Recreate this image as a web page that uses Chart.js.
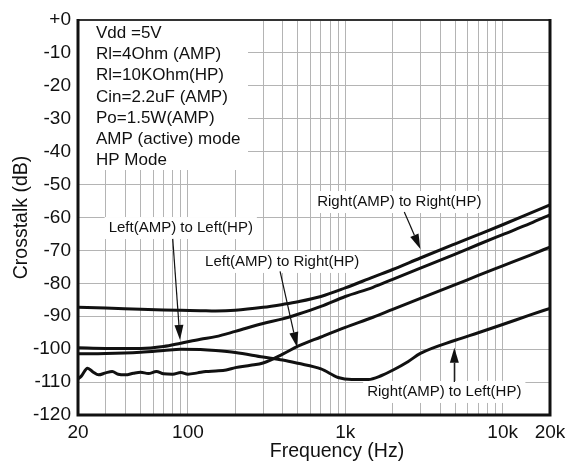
<!DOCTYPE html>
<html>
<head>
<meta charset="utf-8">
<style>
  html, body { margin: 0; padding: 0; background: #fff; }
  #wrap { width: 577px; height: 462px; }
</style>
<script src="https://cdn.jsdelivr.net/npm/chart.js@4/dist/chart.umd.min.js"></script>
</head>
<body>
<div id="wrap"><canvas id="crosstalk"></canvas></div>
<script>
// ====== data (Hz / dB) ======
const freqHz = [20, 30, 50, 70, 90, 120, 150, 200, 300, 400, 500, 700, 1000, 1500, 2000, 3000, 5000, 7000, 10000, 15000, 20000];
const dbRightToRight = [-87.3, -87.5, -87.9, -88.1, -88.2, -88.3, -88.4, -88.2, -87.3, -86.4, -85.6, -84.0, -81.4, -78.1, -75.8, -72.3, -68.0, -65.2, -62.2, -58.7, -56.2];
const dbLeftToLeft = [-99.6, -99.8, -99.8, -99.2, -98.2, -97.0, -96.2, -94.6, -92.2, -90.8, -89.4, -87.0, -84.0, -81.2, -78.8, -75.4, -71.1, -68.2, -65.2, -61.8, -59.2];

const freqLeftToRight = [20, 21, 23, 25, 27, 30, 33, 36, 40, 45, 50, 56, 63, 70, 80, 90, 100, 115, 130, 150, 175, 200, 250, 300, 400, 500, 700, 1000, 1500, 2000, 3000, 5000, 7000, 10000, 15000, 20000];
const dbLeftToRight = [-109.0, -108.2, -105.8, -107.0, -107.8, -107.2, -106.8, -107.6, -107.8, -107.3, -107.0, -107.4, -106.8, -107.5, -107.6, -107.1, -107.6, -107.2, -106.8, -106.6, -106.3, -105.6, -104.9, -104.2, -101.5, -99.1, -96.3, -93.4, -90.3, -87.9, -84.6, -80.4, -77.6, -74.7, -71.4, -69.0];

const freqRightToLeft = [20, 30, 50, 70, 90, 120, 150, 200, 300, 400, 500, 700, 900, 1100, 1400, 1700, 2000, 2500, 3000, 5000, 7000, 10000, 15000, 20000];
const dbRightToLeft = [-101.4, -101.3, -100.9, -100.4, -100.0, -100.1, -100.4, -101.0, -102.4, -103.3, -104.3, -106.0, -108.6, -109.2, -109.2, -108.0, -106.4, -103.8, -101.3, -97.3, -95.0, -92.5, -89.6, -87.6];

// axis ticks
const xGridFreqs = [20, 30, 40, 50, 60, 70, 80, 90, 100, 200, 300, 400, 500, 600, 700, 800, 900,
  1000, 2000, 3000, 4000, 5000, 6000, 7000, 8000, 9000, 10000, 20000];
const xLabelFreqs = [20, 100, 1000, 10000, 20000];
const xLabelNames = ['20', '100', '1k', '10k', '20k'];

const conditionLines = ['Vdd =5V', 'Rl=4Ohm (AMP)', 'Rl=10KOhm(HP)', 'Cin=2.2uF (AMP)',
  'Po=1.5W(AMP)', 'AMP (active) mode', 'HP Mode'];

// label position / arrow start / arrow tip, in (Hz, dB)
const curveNotes = [
  { text: 'Left(AMP) to Left(HP)', at: [90, -63.2], from: [80, -66.5], to: [89, -97.2] },
  { text: 'Left(AMP) to Right(HP)', at: [397, -73.5], from: [385, -76.4], to: [494, -99.4] },
  { text: 'Right(AMP) to Right(HP)', at: [2204, -55.3], from: [2371, -58.3], to: [2999, -69.6] },
  { text: 'Right(AMP) to Left(HP)', at: [4257, -113.0], from: [4932, -110.0], to: [4932, -99.6] }
];

const FONT = '"Liberation Sans", Arial, sans-serif';
Chart.defaults.font.family = FONT;
Chart.defaults.color = '#111';

function toPoints(xs, ys) {
  return xs.map((f, i) => ({ x: f, y: ys[i] }));
}

function curve(label, xs, ys) {
  return {
    label: label,
    data: toPoints(xs, ys),
    borderColor: '#111',
    borderWidth: 3,
    pointRadius: 0,
    cubicInterpolationMode: 'monotone',
    fill: false
  };
}

function arrow(ctx, x1, y1, x2, y2) {
  const ang = Math.atan2(y2 - y1, x2 - x1);
  const len = 15, half = 4.5;
  const bx = x2 - len * Math.cos(ang), by = y2 - len * Math.sin(ang);
  ctx.beginPath();
  ctx.moveTo(x1, y1);
  ctx.lineTo(bx, by);
  ctx.stroke();
  ctx.beginPath();
  ctx.moveTo(x2, y2);
  ctx.lineTo(bx + half * Math.sin(ang), by - half * Math.cos(ang));
  ctx.lineTo(bx - half * Math.sin(ang), by + half * Math.cos(ang));
  ctx.closePath();
  ctx.fill();
}

const notesPlugin = {
  id: 'notes',
  beforeDatasetsDraw(chart) {
    const { ctx, chartArea: a, scales: { x, y } } = chart;
    ctx.save();
    // conditions box hides the grid behind it
    ctx.fillStyle = '#fff';
    ctx.fillRect(a.left, a.top, 170, 150);
    ctx.fillStyle = '#111';
    ctx.font = '17px ' + FONT;
    ctx.textBaseline = 'middle';
    conditionLines.forEach((t, i) => ctx.fillText(t, a.left + 18, a.top + 13 + i * 21.3));

    ctx.font = '15px ' + FONT;
    ctx.textAlign = 'center';
    curveNotes.forEach(n => {
      const px = x.getPixelForValue(n.at[0]);
      const py = y.getPixelForValue(n.at[1]);
      const w = ctx.measureText(n.text).width + 8;
      ctx.fillStyle = '#fff';
      ctx.fillRect(px - w / 2, py - 11, w, 22);
      ctx.fillStyle = '#111';
      ctx.fillText(n.text, px, py);
    });
    ctx.restore();
  },
  afterDatasetsDraw(chart) {
    const { ctx, scales: { x, y } } = chart;
    ctx.save();
    ctx.strokeStyle = '#111';
    ctx.fillStyle = '#111';
    ctx.lineWidth = 1.2;
    curveNotes.forEach(n => {
      arrow(ctx, x.getPixelForValue(n.from[0]), y.getPixelForValue(n.from[1]),
        x.getPixelForValue(n.to[0]), y.getPixelForValue(n.to[1]));
    });
    ctx.restore();
  },
  afterDraw(chart) {
    const { ctx, chartArea: a } = chart;
    ctx.save();
    // frame
    ctx.strokeStyle = '#333';
    ctx.lineWidth = 2;
    ctx.beginPath();
    ctx.moveTo(a.left, a.top);
    ctx.lineTo(a.right, a.top);
    ctx.stroke();
    ctx.strokeStyle = '#111';
    ctx.lineWidth = 3;
    ctx.beginPath();
    ctx.moveTo(a.right, a.top - 1);
    ctx.lineTo(a.right, a.bottom);
    ctx.lineTo(a.left, a.bottom);
    ctx.lineTo(a.left, a.top - 1);
    ctx.stroke();
    // x title
    ctx.fillStyle = '#111';
    ctx.font = '19.5px ' + FONT;
    ctx.textAlign = 'center';
    ctx.textBaseline = 'middle';
    ctx.fillText('Frequency (Hz)', 337, 452);
    ctx.restore();
  }
};

new Chart(document.getElementById('crosstalk').getContext('2d'), {
  type: 'line',
  data: {
    datasets: [
      curve('Right(AMP) to Right(HP)', freqHz, dbRightToRight),
      curve('Left(AMP) to Left(HP)', freqHz, dbLeftToLeft),
      curve('Left(AMP) to Right(HP)', freqLeftToRight, dbLeftToRight),
      curve('Right(AMP) to Left(HP)', freqRightToLeft, dbRightToLeft)
    ]
  },
  options: {
    responsive: true,
    maintainAspectRatio: false,
    animation: false,
    layout: { padding: { top: 20, right: 27, left: 0, bottom: 0 } },
    plugins: {
      legend: { display: false },
      tooltip: { enabled: false }
    },
    scales: {
      x: {
        type: 'logarithmic',
        min: 20,
        max: 20000,
        afterBuildTicks: scale => { scale.ticks = xGridFreqs.map(v => ({ value: v })); },
        afterFit: scale => { scale.height = 47; },
        ticks: {
          autoSkip: false,
          maxRotation: 0,
          padding: 6,
          font: { size: 19 },
          callback: v => {
            const i = xLabelFreqs.indexOf(v);
            return i >= 0 ? xLabelNames[i] : '';
          }
        },
        grid: { color: '#b4b4b4', lineWidth: 1, drawTicks: false },
        border: { display: false }
      },
      y: {
        min: -120,
        max: 0,
        afterFit: scale => { scale.width = 78; },
        ticks: {
          stepSize: 10,
          padding: 7,
          font: { size: 19 },
          callback: v => (v === 0 ? '+0' : String(v))
        },
        title: {
          display: true,
          text: 'Crosstalk (dB)',
          font: { size: 19.5 },
          padding: { top: 10, bottom: 0 }
        },
        grid: { color: '#b4b4b4', lineWidth: 1, drawTicks: false },
        border: { display: false }
      }
    }
  },
  plugins: [notesPlugin]
});
</script>
</body>
</html>
